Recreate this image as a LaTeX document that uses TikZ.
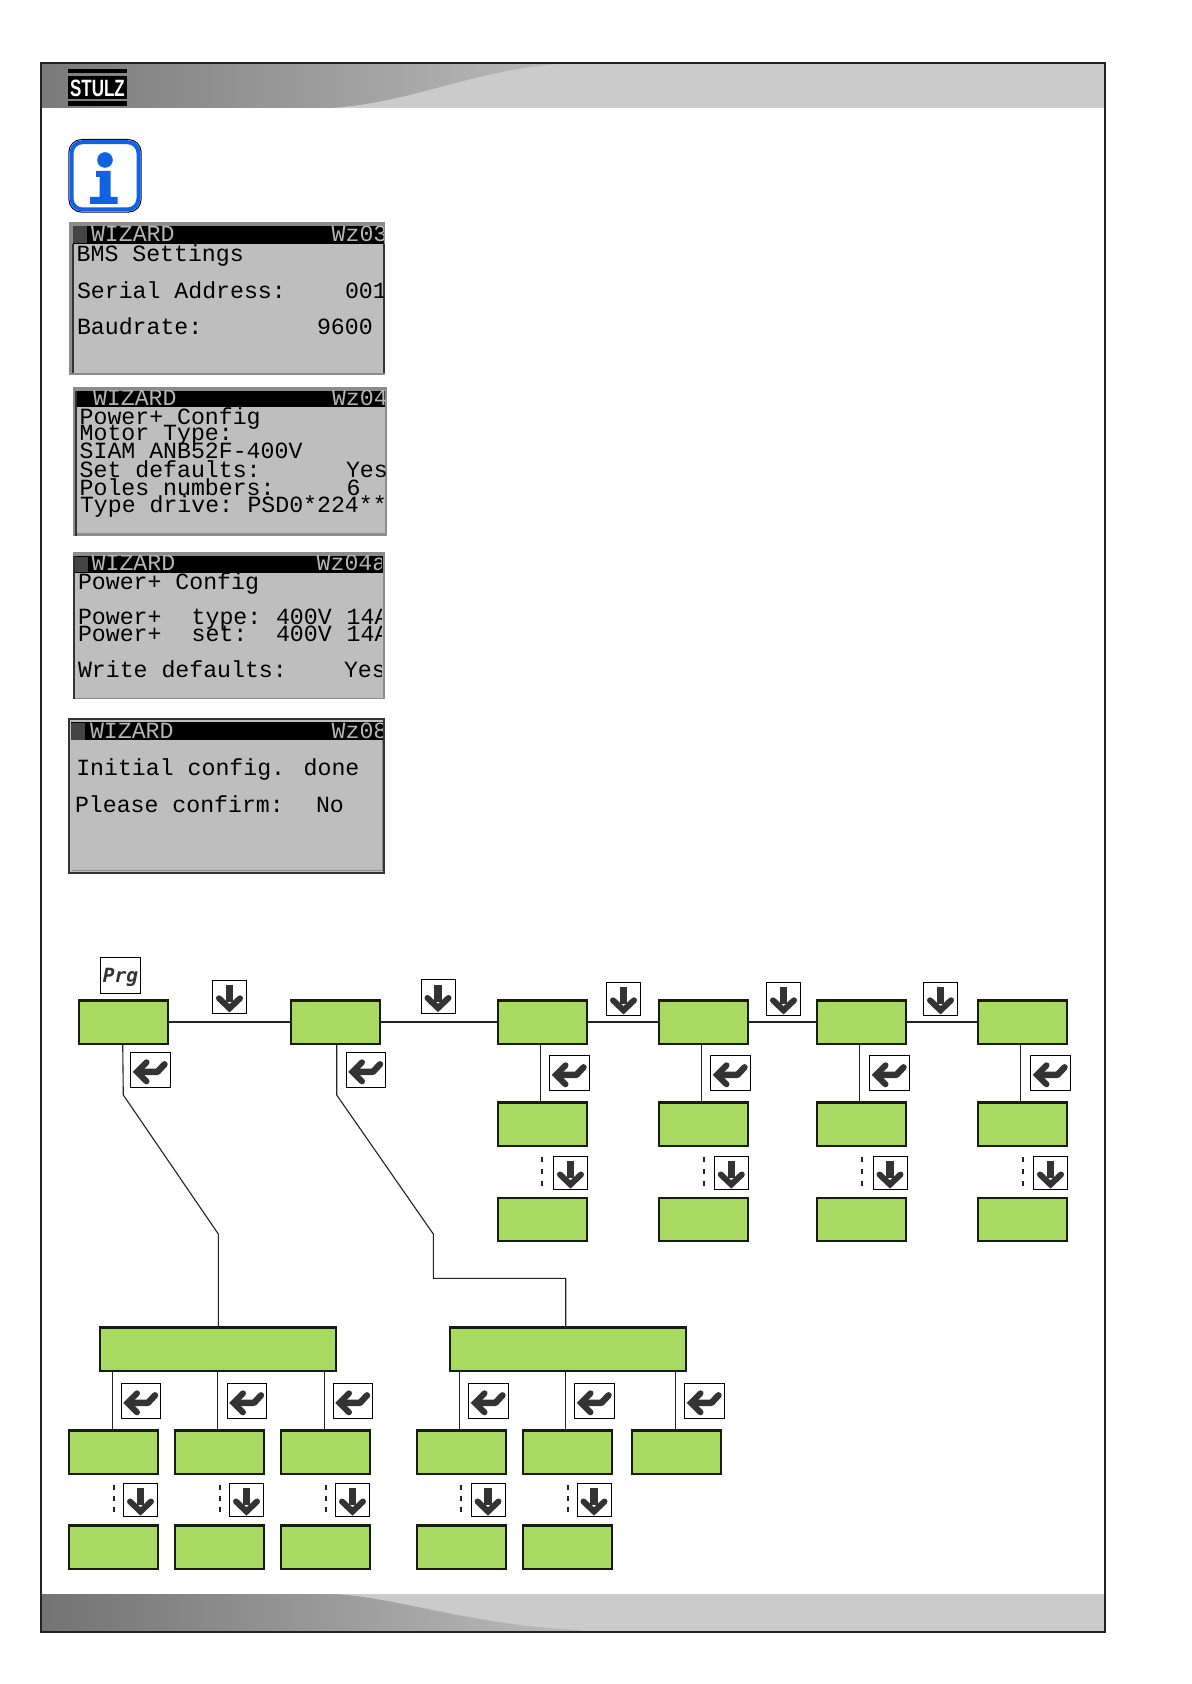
\documentclass[tikz,border=0pt]{standalone}
\usepackage{fontspec}
\setmainfont{Liberation Sans}
\newfontfamily\lcdfont{Liberation Mono}
\newfontfamily\keyfont{DejaVu Sans Mono}
\definecolor{leaf}{HTML}{A8DA62}
\definecolor{ink}{HTML}{161C0E}
\definecolor{glyph}{HTML}{333333}
\definecolor{lcdbg}{HTML}{BEBEBE}
\definecolor{lcdedge}{HTML}{8C8C8C}
\definecolor{lcdtitle}{HTML}{B4B4B4}
\definecolor{lcdsq}{HTML}{444444}
\definecolor{band}{HTML}{CBCBCB}
\definecolor{frameline}{HTML}{222222}
\definecolor{infoblue}{HTML}{0F62E0}
\definecolor{shadeend}{HTML}{BCBCBC}
\tikzset{
  gbox/.style={rectangle,draw=ink,fill=leaf,line width=1.1pt,inner sep=0pt,outer sep=0pt,minimum width=44.6pt,minimum height=21.6pt},
  wbox/.style={gbox,minimum width=117.9pt},
  keybox/.style={rectangle,draw=black,fill=white,line width=.45pt,inner sep=0pt,outer sep=0pt},
  dkey/.style={keybox,minimum width=17pt,minimum height=16.8pt},
  ekey/.style={keybox,minimum width=19.7pt,minimum height=17.5pt},
  link/.style={draw=frameline,line width=.55pt},
  dots/.style={draw=frameline,line width=1pt,dash pattern=on 2.5pt off 3.5pt,shorten <=5.8pt,shorten >=5pt},
  dots2/.style={draw=frameline,line width=1pt,dash pattern=on 2.5pt off 3pt,shorten <=5.5pt,shorten >=5pt},
  lt/.style={anchor=base west,inner sep=0pt,outer sep=0pt,text=black,font=\lcdfont\fontsize{11.6}{12}\selectfont},
  lh/.style={lt,text=lcdtitle},
  downglyph/.pic={
    \draw[glyph,line width=3.6pt] (0,-12) -- (0,5);
    \draw[glyph,line width=3pt,line cap=round,miter limit=4] (-10.5,1.5) -- (0,11.5) -- (10.5,1.5);
  },
  enterglyph/.pic={
    \draw[glyph,line width=3pt,line cap=round,miter limit=4] (-4,-8) -- (-13.5,1.5) -- (-4,11);
    \draw[glyph,line width=3.2pt,line cap=round,line join=round] (-12,1.5) -- (7,1.5) -- (14,-6);
  }
}
\newcommand{\dnkey}[3]{\node[dkey] (#1) at (#2,#3) {}; \pic at (#1.center) {downglyph};}
\newcommand{\enkey}[3]{\node[ekey] (#1) at (#2,#3) {}; \pic at (#1.center) {enterglyph};}
\begin{document}
\begin{tikzpicture}[x=.5pt,y=-.5pt]
\useasboundingbox (0,0) rectangle (1191,1684);
\fill[white] (0,0) rectangle (1191,1684);
% header
\fill[band] (41,63) rectangle (1105,108);
\shade[left color=black!52,right color=shadeend] (41,63) -- (577,63) .. controls (480,66) and (415,103) .. (330,108) -- (41,108) -- cycle;
% footer
\fill[band] (41,1594) rectangle (1105,1632);
\shade[left color=black!55,right color=shadeend] (41,1594) -- (335,1594) .. controls (400,1598) and (470,1625) .. (580,1630) -- (580,1632) -- (41,1632) -- cycle;
% frame
\draw[frameline,line width=1.1pt] (41,63) rectangle (1105,1632);
% logo
\fill[black] (67.7,69) rectangle (127.3,73.5);
\fill[black] (67.7,76) rectangle (127.3,99.5);
\fill[black] (67.7,101) rectangle (127.3,106);
\node[text=white,font=\bfseries\fontsize{11.8}{13}\selectfont,inner sep=0pt,xscale=.72] (logo) at (97.5,88) {STULZ};
% info icon
\draw[black!75!blue,line width=.5pt,fill=white,rounded corners=6.5pt] (68.8,139.5) rectangle (141.2,212.2);
\draw[infoblue,line width=2pt,rounded corners=5.5pt] (71.5,142.2) rectangle (138.5,209.5);
\fill[infoblue] (105,160) circle[radius=7.8];
\fill[infoblue] (96,171) -- (110.5,171) -- (110.5,197) -- (117.5,197) -- (117.5,204) -- (90,204) -- (90,197) -- (99.5,197) -- (99.5,177) -- (96,177) -- cycle;
% screen 1
\fill[lcdedge] (69.3,222.3) rectangle (385,375);
\fill[lcdbg] (73,225.7) rectangle (384,372.7);
\draw[black!80,line width=.6pt] (73,244) -- (73,372.7) (384,244) -- (384,372.7);
\fill[black] (73,225.7) rectangle (384,244);
\fill[lcdsq] (73,226.5) rectangle (87,243.5);
\begin{scope}
\clip (73,225.7) rectangle (383.5,372.7);
\node[lh] (s1a) at (91,241.5) {WIZARD};
\node[lh] (s1b) at (331.7,241.5) {Wz03};
\node[lt] (s1c) at (76.7,261.5) {BMS Settings};
\node[lt] (s1d) at (77,298.2) {Serial Address:};
\node[lt] (s1e) at (345,298.2) {001};
\node[lt] (s1f) at (77,334.5) {Baudrate:};
\node[lt] (s1g) at (317,334.5) {9600};
\end{scope}
% screen 2
\fill[lcdedge] (73.3,387) rectangle (387,536);
\fill[lcdbg] (77,390.7) rectangle (385,533);
\draw[black!80,line width=.8pt] (76,390.7) -- (76,536);
\fill[black] (77,390.7) rectangle (385,407);
\begin{scope}
\clip (77,390.7) rectangle (385,533);
\node[lh] (s2a) at (93,406) {WIZARD};
\node[lh] (s2b) at (332,406) {Wz04};
\node[lt] (s2c) at (79.7,424) {Power+ Config};
\node[lt] (s2d) at (79.7,441) {Motor Type:};
\node[lt] (s2e) at (79.7,458.5) {SIAM ANB52F-400V};
\node[lt] (s2f) at (79.7,477.5) {Set defaults:};
\node[lt] (s2g) at (346,477.5) {Yes};
\node[lt] (s2h) at (79.7,495) {Poles numbers:};
\node[lt] (s2i) at (346.7,495) {6};
\node[lt] (s2j) at (80,512.7) {Type drive:};
\node[lt] (s2k) at (247.5,512.7) {PSD0*224**};
\end{scope}
% screen 3
\fill[lcdedge] (72.7,551.7) rectangle (385,699);
\fill[lcdbg] (75,555.7) rectangle (383,698);
\draw[black!80,line width=.8pt] (74,555.7) -- (74,699);
\fill[black] (75,555.7) rectangle (383,572.7);
\fill[lcdsq] (75,556.5) rectangle (88,572);
\begin{scope}
\clip (75,555.7) rectangle (381,698);
\node[lh] (s3a) at (91.7,570) {WIZARD};
\node[lh] (s3b) at (316.7,570) {Wz04a};
\node[lt] (s3c) at (78,589.3) {Power+ Config};
\node[lt] (s3d) at (78,624.3) {Power+};
\node[lt] (s3e) at (191.7,624.3) {type:};
\node[lt] (s3f) at (276,624.3) {400V};
\node[lt] (s3g) at (346.7,624.3) {14A};
\node[lt] (s3h) at (78,641) {Power+};
\node[lt] (s3i) at (191.7,641) {set:};
\node[lt] (s3j) at (276,641) {400V};
\node[lt] (s3k) at (346.7,641) {14A};
\node[lt] (s3l) at (78,677.7) {Write defaults:};
\node[lt] (s3m) at (344,677.7) {Yes};
\end{scope}
% screen 4
\fill[lcdbg] (69.3,719.3) rectangle (384,873.3);
\draw[black!80,line width=.9pt] (69.3,719.3) rectangle (384,873.3);
\draw[black!45,line width=.5pt] (71.5,870.5) -- (382.5,870.5) -- (382.5,740);
\fill[black] (70.7,722.3) rectangle (383,740);
\fill[lcdsq] (71,723) rectangle (85,739.5);
\begin{scope}
\clip (70.7,722.3) rectangle (382.5,871);
\node[lh] (s4a) at (90,738.3) {WIZARD};
\node[lh] (s4b) at (331.7,738.3) {Wz08};
\node[lt] (s4c) at (76.3,775.7) {Initial config. done};
\node[lt] (s4d) at (75,812.3) {Please confirm:};
\node[lt] (s4e) at (316,812.3) {No};
\end{scope}
% upper boxes
\node[gbox] (b1) at (123.5,1022) {};
\node[gbox] (b2) at (335.5,1022) {};
\node[gbox] (b3) at (542.3,1022) {};
\node[gbox] (b4) at (703.5,1022) {};
\node[gbox] (b5) at (861.5,1022) {};
\node[gbox] (b6) at (1022.6,1022) {};
\node[gbox] (c3) at (542.3,1124) {};
\node[gbox] (c4) at (703.5,1124) {};
\node[gbox] (c5) at (861.5,1124) {};
\node[gbox] (c6) at (1022.6,1124) {};
\node[gbox] (f3) at (542.3,1219.5) {};
\node[gbox] (f4) at (703.5,1219.5) {};
\node[gbox] (f5) at (861.5,1219.5) {};
\node[gbox] (f6) at (1022.6,1219.5) {};
% lower boxes
\node[wbox] (A) at (218,1349) {};
\node[wbox] (B) at (568,1349) {};
\node[gbox] (a1) at (113.5,1452) {};
\node[gbox] (a2) at (219.5,1452) {};
\node[gbox] (a3) at (325.5,1452) {};
\node[gbox] (a4) at (461.3,1452) {};
\node[gbox] (a5) at (567.7,1452) {};
\node[gbox] (a6) at (676.5,1452) {};
\node[gbox] (g1) at (113.5,1547) {};
\node[gbox] (g2) at (219.5,1547) {};
\node[gbox] (g3) at (325.5,1547) {};
\node[gbox] (g4) at (461.3,1547) {};
\node[gbox] (g5) at (567.7,1547) {};
% connectors
\draw[link] (b1.east) -- (b2.west);
\draw[link] (b2.east) -- (b3.west);
\draw[link] (b3.east) -- (b4.west);
\draw[link] (b4.east) -- (b5.west);
\draw[link] (b5.east) -- (b6.west);
\coordinate (u0) at (122.7,1095);
\coordinate (u1) at (123.3,1095);
\coordinate (u2) at (218.3,1234);
\draw[link] (u0 |- b1.south) -- (u1) -- (u2) -- (u2 |- A.north);
\coordinate (v1) at (336.7,1095);
\coordinate (v2) at (433.3,1234);
\coordinate (v3) at (433.3,1278.3);
\coordinate (v4) at (565.7,1278.3);
\draw[link] (v1 |- b2.south) -- (v1) -- (v2) -- (v3) -- (v4) -- (v4 |- B.north);
\foreach \t/\b in {b3/c3,b4/c4,b5/c5,b6/c6}{
  \draw[link] ([xshift=-1pt]\t.south) -- ([xshift=-1pt]\b.north);
}
\foreach \b/\o in {a1/-.6,a2/-1.1,a3/-.6}{
  \draw[link] ([xshift=\o pt]\b.north |- A.south) -- ([xshift=\o pt]\b.north);
}
\foreach \b/\o in {a4/-.8,a5/-1.2,a6/-.4}{
  \draw[link] ([xshift=\o pt]\b.north |- B.south) -- ([xshift=\o pt]\b.north);
}
\foreach \t/\b in {c3/f3,c4/f4,c5/f5,c6/f6}{
  \draw[dots] (\t.south) -- (\b.north);
}
\foreach \t/\b in {a1/g1,a2/g2,a3/g3,a4/g4,a5/g5}{
  \draw[dots2] (\t.south) -- (\b.north);
}
% keys
\node[keybox,minimum width=20pt,minimum height=18pt] (prg) at (120.5,975) {};
\node[inner sep=0pt,anchor=base,text=glyph,font=\keyfont\bfseries\itshape\fontsize{9.8}{11}\selectfont] (prgt) at (120.5,982) {Prg};
\dnkey{d1}{229.5}{996.8}
\dnkey{d2}{438}{996.5}
\dnkey{d3}{623.5}{998.8}
\dnkey{d4}{783.5}{998.8}
\dnkey{d5}{940.5}{998.8}
\enkey{e1}{150.5}{1070.3}
\enkey{e2}{366}{1070.3}
\enkey{e3}{569.5}{1073.3}
\enkey{e4}{730.5}{1073.3}
\enkey{e5}{889.5}{1073.3}
\enkey{e6}{1050.5}{1073.3}
\dnkey{m3}{570.5}{1173}
\dnkey{m4}{731.3}{1173}
\dnkey{m5}{890}{1173}
\dnkey{m6}{1050.5}{1173}
\enkey{n1}{141}{1401.3}
\enkey{n2}{247}{1401.3}
\enkey{n3}{353}{1401.3}
\enkey{n4}{488.5}{1401.3}
\enkey{n5}{594.5}{1401.3}
\enkey{n6}{704.5}{1401.3}
\dnkey{q1}{140.5}{1500}
\dnkey{q2}{246.5}{1500}
\dnkey{q3}{352.5}{1500}
\dnkey{q4}{488}{1500}
\dnkey{q5}{594}{1500}
\end{tikzpicture}
\end{document}
